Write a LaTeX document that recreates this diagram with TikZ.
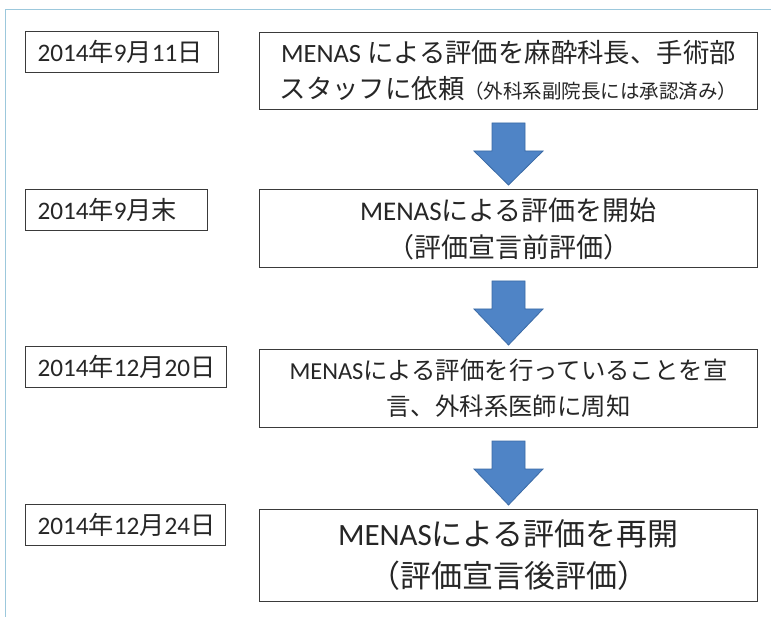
\documentclass[tikz,border=0pt]{standalone}
\usepackage{fontspec}
\setmainfont{Carlito}
\newfontfamily\jp{Noto Sans CJK JP}
\usetikzlibrary{calc}
\definecolor{framec}{HTML}{9CC8DC}
\definecolor{boxc}{HTML}{3A3A3A}
\definecolor{txt}{HTML}{262626}
\definecolor{arrowfill}{HTML}{4F84C6}
\definecolor{arrowdraw}{HTML}{3A6AA5}
\tikzset{
  datebox/.style={draw=boxc, line width=1pt, anchor=north west, inner xsep=12pt, inner ysep=0pt,
    text width=#1, align=left, minimum height=41pt, text=txt, font=\fontsize{25.2}{30}\selectfont},
  mainbox/.style={draw=boxc, line width=1pt, anchor=north west, inner sep=0pt, align=center,
    minimum width=498pt, text=txt},
  blockarrow/.style={fill=arrowfill, draw=arrowdraw, line width=0.8pt, line join=miter}
}
\newcommand{\blockarr}[2]{%
  \path[blockarrow] ($(#1.south)+(-16.5,13)$) -- ($(#1.south)+(16.5,13)$) -- ($(#1.south)+(16.5,41)$)
    -- ($(#1.south)+(34.5,41)$) -- ($(#2.north)+(0,-4)$) -- ($(#1.south)+(-34.5,41)$)
    -- ($(#1.south)+(-16.5,41)$) -- cycle;}
\begin{document}
\begin{tikzpicture}[x=1pt,y=-1pt]
\useasboundingbox (0,0) rectangle (771,617);
\fill[white] (0,0) rectangle (771,617);
% outer frame (only top and left edges visible)
\coordinate (fr1) at (772,9.5);
\coordinate (fr2) at (5.5,9.5);
\coordinate (fr3) at (5.5,618);
\draw[framec, line width=1.2pt] (fr1) -- (fr2) -- (fr3);
% date boxes
\node[datebox=169pt] (d1) at (25,31) {2014{\jp 年}9{\jp 月}11{\jp 日}};
\node[datebox=158pt] (d2) at (25,189) {2014{\jp 年}9{\jp 月末}};
\node[datebox=177pt] (d3) at (25,346) {2014{\jp 年}12{\jp 月}20{\jp 日}};
\node[datebox=176pt] (d4) at (25,504) {2014{\jp 年}12{\jp 月}24{\jp 日}};
% main boxes
\node[mainbox, minimum height=77pt, font=\fontsize{26.4}{36}\selectfont] (m1) at (259,32)
  {MENAS {\jp による評価を麻酔科長、手術部}\\{\jp スタッフに依頼{\fontsize{19.5}{36}\selectfont （外科系副院長には承認済み）}}};
\node[mainbox, minimum height=78pt, font=\fontsize{27}{37}\selectfont] (m2) at (259,189)
  {MENAS{\jp による評価を開始}\\{\jp （評価宣言前評価）}};
\node[mainbox, minimum height=78pt, font=\fontsize{24.4}{36}\selectfont] (m3) at (259,349)
  {MENAS{\jp による評価を行っていることを宣}\\{\jp 言、外科系医師に周知}};
\node[mainbox, minimum height=92pt, font=\fontsize{31}{42}\selectfont] (m4) at (259,509)
  {MENAS{\jp による評価を再開}\\{\jp （評価宣言後評価）}};
% block arrows
\blockarr{m1}{m2}
\blockarr{m2}{m3}
\blockarr{m3}{m4}
\end{tikzpicture}
\end{document}
